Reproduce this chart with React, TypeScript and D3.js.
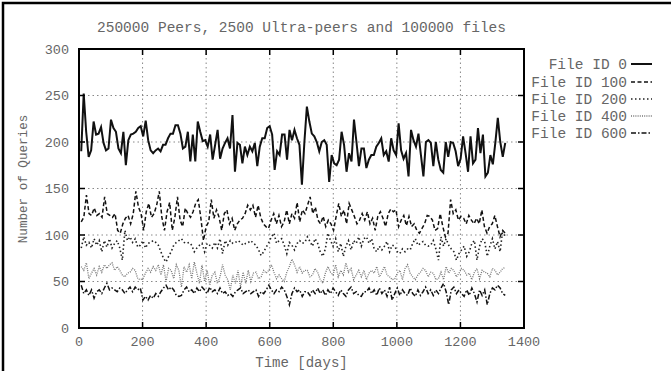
import React from "react";
import * as d3 from "d3";

const W = 671;
const H = 371;

const TITLE = "250000 Peers, 2500 Ultra-peers and 100000 files";
const X_LABEL = "Time [days]";
const Y_LABEL = "Number of Queries";
const xTicks = [0, 200, 400, 600, 800, 1000, 1200, 1400];
const yTicks = [0, 50, 100, 150, 200, 250, 300];
const seriesNames = ["File ID 0", "File ID 100", "File ID 200", "File ID 400", "File ID 600"];

const DAY_START = 7;
const DAY_END = 1341;

const file0 = [
  190, 252, 211, 184, 191, 222, 208, 209, 216, 199,
  191, 193, 224, 215, 211, 193, 188, 211, 175, 202,
  208, 209, 211, 215, 217, 206, 223, 202, 191, 188,
  191, 193, 190, 197, 197, 204, 209, 209, 218, 218,
  209, 193, 195, 211, 179, 208, 179, 222, 211, 201,
  202, 195, 208, 181, 197, 213, 182, 193, 199, 204,
  193, 229, 168, 199, 197, 177, 195, 186, 195, 190,
  199, 174, 195, 204, 204, 215, 217, 208, 170, 190,
  186, 208, 208, 181, 213, 202, 213, 204, 197,
  154, 200, 238, 222, 209, 206, 200, 190, 200, 202,
  197, 157, 186, 177, 175, 181, 211, 197, 168, 188,
  179, 224, 200, 174, 193, 193, 172, 181, 186, 186,
  195, 199, 204, 186, 190, 179, 204, 191, 186, 220,
  191, 182, 188, 163, 213, 202, 195, 209, 186, 163,
  200, 202, 199, 174, 200, 181, 170, 167, 200, 184,
  200, 199, 190, 174, 182, 206, 188, 168, 206, 177,
  181, 215, 188, 208, 163, 167, 186, 176, 199, 226,
  200, 184, 199,
];

const file100 = [
  114, 119, 143, 123, 121, 129, 121, 123, 119, 141, 123, 121, 119, 123, 105, 102, 112, 118, 121, 112,
  123, 147, 130, 123, 105, 125, 134, 119, 123, 132, 147, 119, 105, 125, 135, 105, 119, 141, 116, 109,
  129, 123, 119, 125, 134, 138, 118, 94, 109, 114, 138, 118, 127, 119, 105, 123, 127, 112, 118, 105,
  112, 116, 118, 123, 132, 127, 132, 119, 132, 119, 112, 109, 107, 116, 123, 112, 121, 109, 114, 127,
  112, 123, 118, 135, 114,
  127, 123, 132, 141, 123, 130, 116, 112, 120, 109, 116, 112, 105, 120, 134, 120, 127, 112, 134, 127,
  120, 112, 116, 123,
  116, 125, 112, 118, 105, 120, 125, 118, 109, 123, 128, 125, 127, 109, 116, 121, 110, 120, 109, 112,
  105, 102, 107, 112, 121, 120, 116, 105, 107, 123, 109, 98, 102, 138, 123, 127, 116, 120, 118, 112,
  121, 116, 112, 118, 112, 127, 109, 102, 109, 112, 121, 109, 98, 105, 102,
];

const file200 = [
  86, 98, 89, 92, 86, 96, 89, 94, 82, 94, 87, 96, 86, 91, 94, 86, 73, 105, 94, 98,
  92, 96, 87, 89, 94, 86, 91, 92, 94, 92, 89, 82, 75, 71, 77, 82, 89, 92, 94, 96,
  92, 91, 92, 89, 82, 86, 89, 91, 82, 91, 89, 86, 92, 86, 96, 80, 94, 89, 94, 91,
  92, 94, 92, 89, 91, 92, 94, 91, 89, 84, 78, 82, 87, 92, 98, 102, 91, 94, 96, 89,
  80, 92, 89, 84, 91, 94, 91, 92,
  98, 93, 88, 96, 91, 82, 77, 85, 102, 94, 88, 96, 82, 91, 77, 88, 94, 84, 94, 91,
  98, 88, 96,
  98, 91, 96, 85, 82, 88, 84, 88, 93, 82, 89, 88, 82, 80, 85, 82, 85, 84, 91, 96,
  89, 91, 93, 89, 88, 89, 94, 85, 73, 98, 88, 96, 89, 85, 82, 73, 80, 84, 88, 77,
  82, 91, 94, 73, 88, 96, 93, 77, 88, 96, 85, 93, 82, 105, 98,
];

const file400 = [
  66, 62, 70, 53, 59, 64, 57, 66, 60, 68, 64, 68, 70, 62, 66, 62, 57, 55, 59, 60,
  64, 62, 53, 52, 53, 59, 64, 60, 66, 62, 68, 57, 68, 50, 64, 62, 53, 68, 62, 44,
  66, 60, 68, 53, 71, 59, 48, 68, 50, 62, 46, 57, 60, 48, 55, 68, 57, 52, 41, 57,
  48, 62, 44, 60, 48, 62, 50, 59, 60, 53, 55, 62, 59, 62, 68, 60, 53, 57, 53, 50,
  60, 66, 74, 68, 60, 66, 59, 62,
  62, 55, 57, 64, 60, 52, 48, 59, 66, 60, 57, 68, 55, 62, 57, 70, 60, 64, 52, 57,
  62, 55, 62,
  52, 59, 62, 59, 66, 55, 60, 66, 57, 55, 52, 53, 59, 62, 52, 64, 68, 59, 55, 52,
  57, 60, 64, 62, 55, 60, 59, 52, 53, 60, 52, 66, 59, 64, 62, 55, 59, 64, 62, 57,
  59, 52, 60, 64, 53, 62, 60, 59, 55, 64, 62, 57, 60, 64, 65,
];

const file600 = [
  46, 37, 41, 35, 41, 32, 39, 41, 37, 43, 48, 41, 43, 41, 39, 43, 41, 37, 41, 44,
  39, 44, 41, 43, 30, 34, 30, 35, 32, 37, 34, 39, 43, 46, 41, 44, 41, 35, 34, 35,
  41, 44, 39, 41, 37, 43, 39, 44, 41, 37, 44, 39, 41, 37, 43, 37, 39, 35, 37, 34,
  39, 41, 43, 37, 39, 41, 37, 39, 41, 34, 39, 37, 41, 46, 41, 37, 41, 39, 44, 41,
  34, 25, 37, 43, 39, 41, 34, 39,
  39, 35, 41, 37, 43, 37, 41, 35, 41, 37, 43, 39, 35, 41, 37, 34, 41, 44, 37, 39,
  35, 34, 39,
  39, 43, 37, 41, 35, 43, 37, 41, 34, 44, 30, 37, 43, 35, 41, 37, 35, 43, 37, 34,
  41, 35, 39, 44, 37, 41, 35, 41, 37, 43, 48, 39, 25, 41, 44, 37, 41, 37, 34, 41,
  35, 43, 37, 28, 41, 35, 41, 25, 37, 43, 41, 46, 43, 37, 35,
];

const seriesValues = [file0, file100, file200, file400, file600];

const styles = [
  { stroke: "#111", width: 2, dash: "none" },
  { stroke: "#111", width: 1.5, dash: "4,2.5" },
  { stroke: "#222", width: 1.6, dash: "1.5,2.5" },
  { stroke: "#777", width: 1.3, dash: "1,1.2" },
  { stroke: "#111", width: 1.5, dash: "5,2,1.5,2" },
];

const FONT = "'Liberation Mono', 'Courier New', monospace";
const TXT = "#666";

export default function App() {
  const left = 79, right = 524, top = 49, bottom = 328;
  const x = d3.scaleLinear().domain([0, 1400]).range([left, right]);
  const y = d3.scaleLinear().domain([0, 300]).range([bottom, top]);

  const line = d3
    .line<[number, number]>()
    .x((d) => x(d[0]))
    .y((d) => y(d[1]));

  const paths = seriesValues.map((vals) => {
    const step = (DAY_END - DAY_START) / (vals.length - 1);
    const pts: [number, number][] = vals.map((v, i) => [DAY_START + i * step, v]);
    return line(pts) || "";
  });

  const legendY = [64, 82, 99, 116, 133];
  const tickLen = 6;

  return (
    <svg
      width={W}
      height={H}
      style={{ position: "absolute", left: 0, top: 0, background: "#fff" }}
    >
      <rect x={0} y={0} width={W} height={H} fill="#fff" />
      <rect x={3} y={3} width={W + 20} height={H + 20} fill="none" stroke="#000" strokeWidth={2.5} />

      <text x={(left + right) / 2} y={32} textAnchor="middle" fontFamily={FONT} fontSize={14.5} fill={TXT}>
        {TITLE}
      </text>

      {xTicks.slice(1, -1).map((t) => (
        <line key={"gx" + t} x1={x(t)} x2={x(t)} y1={top} y2={bottom} stroke="#888" strokeWidth={1} strokeDasharray="1.5,3" />
      ))}
      {yTicks.slice(1, -1).map((t) => (
        <line key={"gy" + t} x1={left} x2={right} y1={y(t)} y2={y(t)} stroke="#888" strokeWidth={1} strokeDasharray="1.5,3" />
      ))}

      {paths.map((p, i) => (
        <path
          key={"s" + i}
          d={p}
          fill="none"
          stroke={styles[i].stroke}
          strokeWidth={styles[i].width}
          strokeDasharray={styles[i].dash}
          strokeLinejoin="miter"
        />
      ))}

      {xTicks.slice(1, -1).map((t) => (
        <g key={"tx" + t}>
          <line x1={x(t)} x2={x(t)} y1={bottom} y2={bottom - tickLen} stroke="#000" strokeWidth={1.5} />
          <line x1={x(t)} x2={x(t)} y1={top} y2={top + tickLen} stroke="#000" strokeWidth={1.5} />
        </g>
      ))}
      {yTicks.slice(1, -1).map((t) => (
        <g key={"ty" + t}>
          <line x1={left} x2={left + tickLen} y1={y(t)} y2={y(t)} stroke="#000" strokeWidth={1.5} />
          <line x1={right} x2={right - tickLen} y1={y(t)} y2={y(t)} stroke="#000" strokeWidth={1.5} />
        </g>
      ))}

      <rect x={left} y={top} width={right - left} height={bottom - top} fill="none" stroke="#000" strokeWidth={2} />

      {xTicks.map((t) => (
        <text key={"lx" + t} x={x(t)} y={346} textAnchor="middle" fontFamily={FONT} fontSize={13.5} fill={TXT}>
          {t}
        </text>
      ))}
      {yTicks.map((t) => (
        <text key={"ly" + t} x={69} y={y(t) + 4.5} textAnchor="end" fontFamily={FONT} fontSize={13.5} fill={TXT}>
          {t}
        </text>
      ))}

      <text x={(left + right) / 2} y={367} textAnchor="middle" fontFamily={FONT} fontSize={14} fill={TXT}>
        {X_LABEL}
      </text>
      <text
        transform={`translate(27, 179) rotate(-90)`}
        textAnchor="middle"
        fontFamily={FONT}
        fontSize={12.6}
        fill={TXT}
      >
        {Y_LABEL}
      </text>

      {seriesNames.map((name, i) => (
        <g key={"lg" + i}>
          <text x={627} y={legendY[i] + 4.5} textAnchor="end" fontFamily={FONT} fontSize={14.5} fill={TXT}>
            {name}
          </text>
          <line
            x1={631}
            x2={652}
            y1={legendY[i]}
            y2={legendY[i]}
            stroke={styles[i].stroke}
            strokeWidth={styles[i].width}
            strokeDasharray={styles[i].dash}
          />
        </g>
      ))}
    </svg>
  );
}
